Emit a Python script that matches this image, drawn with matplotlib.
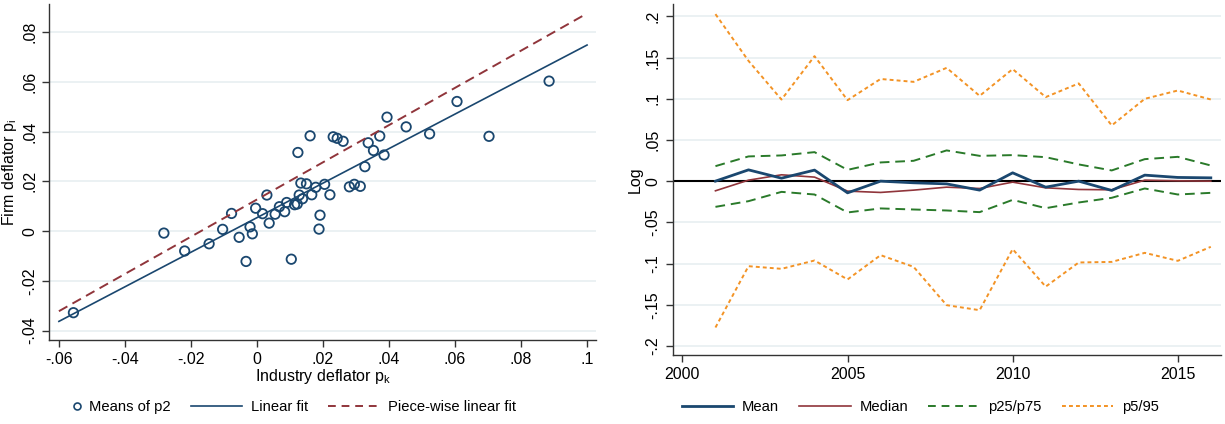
import numpy as np
from matplotlib import pyplot as plt
from matplotlib.lines import Line2D

plt.rcParams['font.family'] = ['Liberation Sans', 'DejaVu Sans']

NAVY = "#1a476f"
MAROON = "#90353b"
GREEN = "#2a7a2a"
ORANGE = "#f39325"
GRID = "#e8eff1"

# left panel: means of p2 by industry
ind_defl = [-0.0556, -0.0282, -0.0219, -0.0145, -0.0104, -0.0077, -0.0054, -0.0033, -0.0021,
            -0.0014, -0.0004, 0.0017, 0.0030, 0.0037, 0.0055, 0.0068, 0.0084, 0.0090, 0.0104,
            0.0114, 0.0122, 0.0124, 0.0128, 0.0133, 0.0138, 0.0150, 0.0161, 0.0166, 0.0178,
            0.0188, 0.0191, 0.0205, 0.0221, 0.0231, 0.0243, 0.0261, 0.0280, 0.0295, 0.0313,
            0.0327, 0.0337, 0.0353, 0.0372, 0.0385, 0.0394, 0.0452, 0.0523, 0.0606, 0.0703,
            0.0885]
firm_defl = [-0.0328, -0.0008, -0.0080, -0.0051, 0.0007, 0.0071, -0.0025, -0.0122, 0.0017,
             -0.0011, 0.0092, 0.0070, 0.0145, 0.0032, 0.0068, 0.0098, 0.0078, 0.0115, -0.0113,
             0.0106, 0.0109, 0.0316, 0.0145, 0.0193, 0.0130, 0.0190, 0.0383, 0.0146, 0.0176,
             0.0008, 0.0064, 0.0188, 0.0146, 0.0379, 0.0373, 0.0361, 0.0178, 0.0188, 0.0180,
             0.0259, 0.0355, 0.0324, 0.0382, 0.0306, 0.0458, 0.0419, 0.0391, 0.0521, 0.0381,
             0.0603]
fit_x = [-0.06, 0.0, 0.1]
lin_fit = [-0.0363, 0.0054, 0.0748]
pw_fit = [-0.0322, 0.0127, 0.0875]

# right panel: distribution over years
years = list(range(2001, 2017))
mean = [0.0, 0.0137, 0.0036, 0.0134, -0.0142, 0.0, -0.0020, -0.0033, -0.0109, 0.0101,
        -0.0073, 0.0, -0.0113, 0.0073, 0.0045, 0.0040]
median = [-0.0117, 0.0012, 0.0077, 0.0049, -0.0121, -0.0137, -0.0109, -0.0073, -0.0089,
          -0.0012, -0.0081, -0.0101, -0.0105, 0.0012, 0.0004, 0.0]
p75 = [0.0182, 0.0300, 0.0312, 0.0352, 0.0137, 0.0227, 0.0247, 0.0373, 0.0307, 0.0316,
       0.0291, 0.0203, 0.0130, 0.0267, 0.0295, 0.0190]
p25 = [-0.0312, -0.0243, -0.0130, -0.0162, -0.0380, -0.0331, -0.0344, -0.0356, -0.0376,
       -0.0227, -0.0328, -0.0259, -0.0202, -0.0089, -0.0162, -0.0142]
p95 = [0.2027, 0.1460, 0.0990, 0.1517, 0.0983, 0.1240, 0.1205, 0.1375, 0.1035, 0.1360,
       0.1020, 0.1186, 0.0676, 0.0999, 0.1100, 0.0991]
p5 = [-0.1776, -0.1032, -0.1064, -0.0963, -0.1193, -0.0898, -0.1040, -0.1505, -0.1566,
      -0.0825, -0.1280, -0.0987, -0.0980, -0.0870, -0.0967, -0.0797]

W, H = 1225.0, 424.0

def stata_fmt(v):
	s = ("%g" % round(v, 3))
	s = s.replace("0.", ".")
	return s

def style(ax):
	for s in ["top", "right"]:
		ax.spines[s].set_visible(False)
	for s in ["left", "bottom"]:
		ax.spines[s].set_color("#333333")
		ax.spines[s].set_linewidth(1.0)
	ax.tick_params(direction="out", length=5, width=1.0, color="#333333", labelsize=11.5)
	ax.grid(axis="y", color=GRID, lw=1.2)
	ax.set_axisbelow(True)

def add_legend(handles, labels, x_px, hl, pad):
	fig.legend(handles, labels, loc="center left", bbox_to_anchor=(x_px / W, 1 - 407 / H),
	           ncol=len(handles), frameon=False, fontsize=10.6, borderpad=0, borderaxespad=0,
	           handlelength=hl, columnspacing=1.35, handletextpad=pad)

fig = plt.figure(figsize=(12.25, 4.24), dpi=100)

# left
ax = fig.add_axes([0.040, 0.198, 0.4465, 0.7926])
style(ax)
ax.scatter(ind_defl, firm_defl, s=46, facecolors="none", edgecolors=NAVY, linewidths=1.3, zorder=3)
ax.plot(fit_x, lin_fit, color=NAVY, lw=1.2, zorder=4)
ax.plot(fit_x, pw_fit, color=MAROON, lw=1.4, dashes=(5, 3), zorder=4)
ax.set_xlim(-0.063, 0.1027)
ax.set_ylim(-0.0438, 0.0913)
xt = [-0.06, -0.04, -0.02, 0, 0.02, 0.04, 0.06, 0.08, 0.1]
yt = [-0.04, -0.02, 0, 0.02, 0.04, 0.06, 0.08]
ax.set_xticks(xt)
ax.set_xticklabels([stata_fmt(v) for v in xt])
ax.set_yticks(yt)
ax.set_yticklabels([stata_fmt(v) for v in yt], rotation=90, va="center")
ax.set_xlabel("Industry deflator p$_\\mathregular{k}$", fontsize=11.5, labelpad=0)
ax.set_ylabel("Firm deflator p$_\\mathregular{i}$", fontsize=11.5, labelpad=2)

add_legend([Line2D([], [], ls="none", marker="o", mfc="none", mec=NAVY, mew=1.2, ms=5)],
           ["Means of p2"], 71, 0.8, 0.45)
add_legend([Line2D([], [], color=NAVY, lw=1.2),
            Line2D([], [], color=MAROON, lw=1.4, dashes=(4, 3))],
           ["Linear fit", "Piece-wise linear fit"], 190.7, 3.5, 0.6)

# right
ax2 = fig.add_axes([0.549, 0.1627, 0.4475, 0.8279])
style(ax2)
ax2.axhline(0, color="black", lw=1.5, zorder=2)
ax2.plot(years, p95, color=ORANGE, lw=1.4, dashes=(2, 1.6), zorder=3)
ax2.plot(years, p5, color=ORANGE, lw=1.4, dashes=(2, 1.6), zorder=3)
ax2.plot(years, p75, color=GREEN, lw=1.4, dashes=(5, 3), zorder=3)
ax2.plot(years, p25, color=GREEN, lw=1.4, dashes=(5, 3), zorder=3)
ax2.plot(years, median, color=MAROON, lw=1.2, zorder=4)
ax2.plot(years, mean, color=NAVY, lw=2.0, zorder=5)
ax2.set_xlim(1999.7, 2016.3)
ax2.set_ylim(-0.211, 0.215)
ax2.set_xticks([2000, 2005, 2010, 2015])
yt2 = [-0.2, -0.15, -0.1, -0.05, 0, 0.05, 0.1, 0.15, 0.2]
ax2.set_yticks(yt2)
ax2.set_yticklabels([stata_fmt(v) for v in yt2], rotation=90, va="center")
ax2.set_ylabel("Log", fontsize=11.5, labelpad=2)

add_legend([Line2D([], [], color=NAVY, lw=2.0),
            Line2D([], [], color=MAROON, lw=1.2),
            Line2D([], [], color=GREEN, lw=1.4, dashes=(4, 3)),
            Line2D([], [], color=ORANGE, lw=1.4, dashes=(2, 1.6))],
           ["Mean", "Median", "p25/p75", "p5/95"], 681.7, 3.5, 0.6)

fig.savefig("out.png", dpi=100)
